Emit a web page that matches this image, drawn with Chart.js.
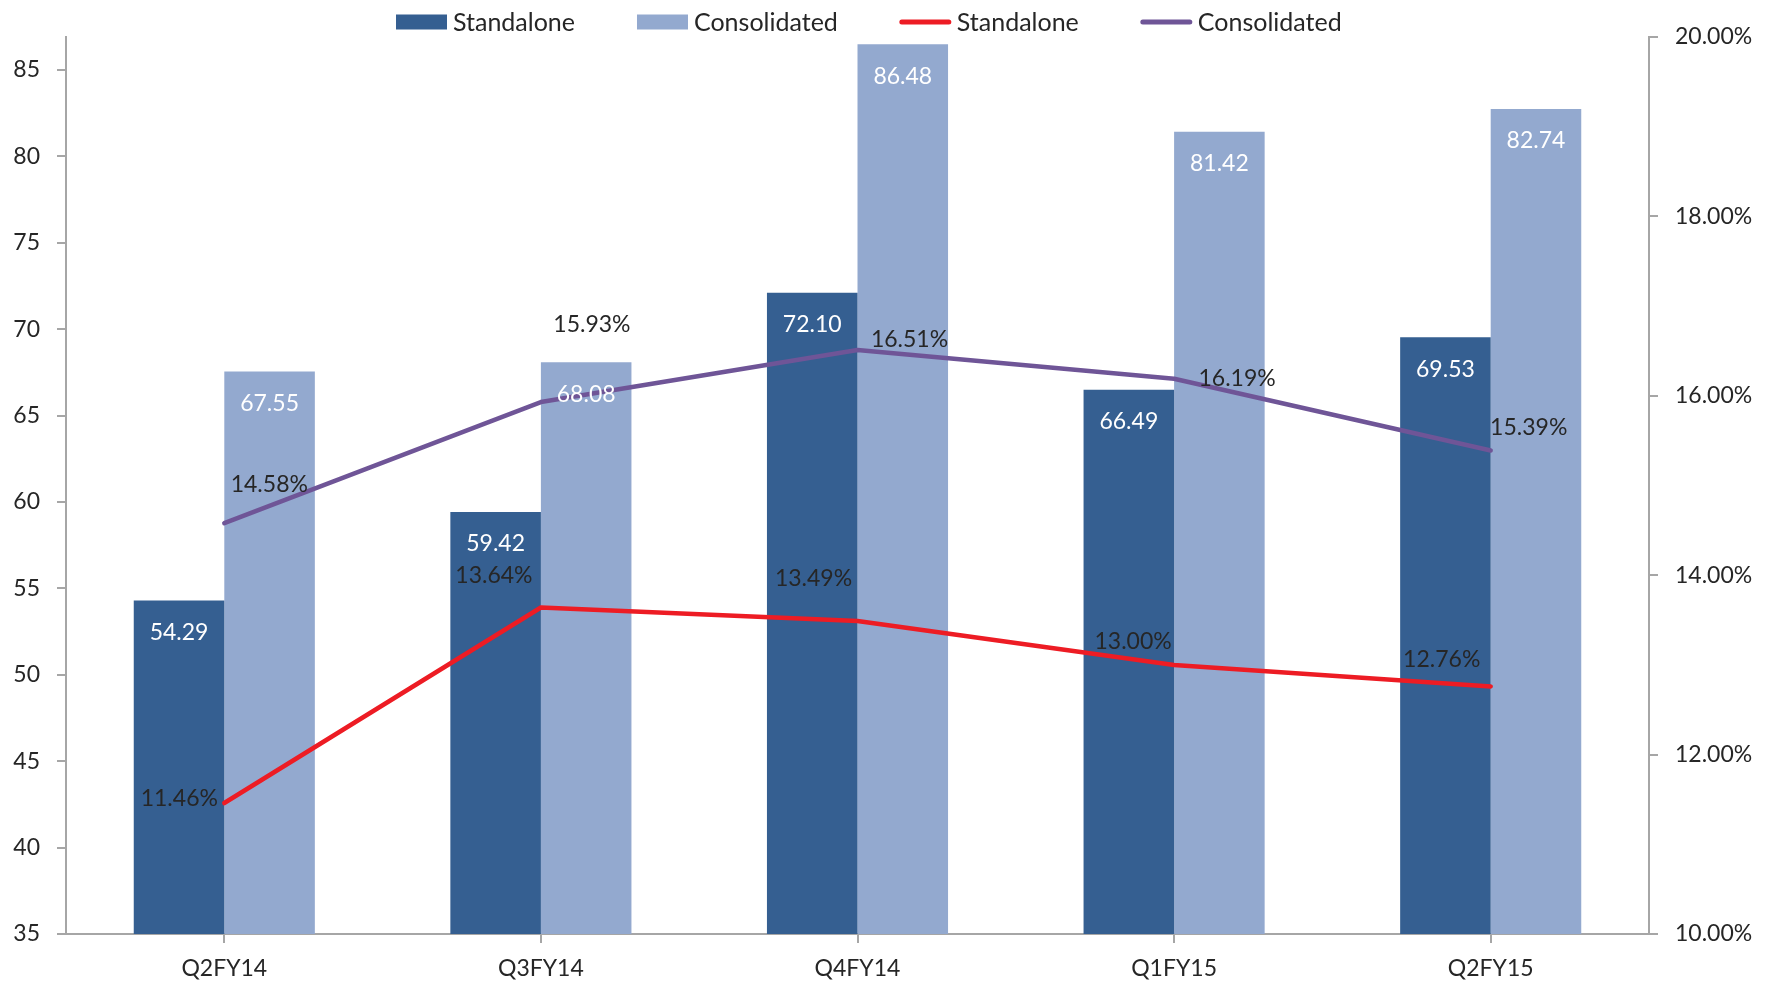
<!DOCTYPE html>
<html><head><meta charset="utf-8">
<script src="https://cdn.jsdelivr.net/npm/chart.js@4"></script>
<style>html,body{margin:0;padding:0;background:#fff}#wrap{width:1775px;height:982px}</style>
</head><body><div id="wrap"><canvas id="c" width="1775" height="982"></canvas></div>
<script>
const categories = ['Q2FY14', 'Q3FY14', 'Q4FY14', 'Q1FY15', 'Q2FY15'];
const standaloneRevenue = [54.29, 59.42, 72.10, 66.49, 69.53];
const consolidatedRevenue = [67.55, 68.08, 86.48, 81.42, 82.74];
const standaloneMargin = [11.46, 13.64, 13.49, 13.00, 12.76];
const consolidatedMargin = [14.58, 15.93, 16.51, 16.19, 15.39];
const leftAxis = { min: 35, max: 86.9, step: 5 };
const rightAxis = { min: 10, max: 20, step: 2 };

const FONT = "Lato, 'Open Sans', sans-serif";
const TEXT = '#262626';
const AXIS = '#A6A6A6';
const DARK = '#355F91';
const LIGHT = '#93A9CF';
const RED = '#ED1C24';
const PURPLE = '#6F5597';

// label placement (pixel offsets from each point, as in the reference)
const standaloneLabelOffsets = [[-45, -4], [-47, -32], [-44, -42], [-41, -23], [-49, -27]];
const consolidatedLabelOffsets = [[45, -39], [51, -78], [52, -10], [63, 0], [38, -23]];

const valueLabels = {
  id: 'valueLabels',
  afterDatasetsDraw(chart) {
    const ctx = chart.ctx;
    ctx.save();
    ctx.font = '23px ' + FONT;
    ctx.textAlign = 'center';
    ctx.textBaseline = 'middle';
    chart.data.datasets.forEach((ds, i) => {
      const meta = chart.getDatasetMeta(i);
      meta.data.forEach((el, j) => {
        const v = ds.data[j];
        if (ds.type === 'bar') {
          ctx.fillStyle = '#FFFFFF';
          ctx.fillText(v.toFixed(2), el.x, el.y + 32);
        } else {
          const o = ds.labelOffsets[j];
          ctx.fillStyle = TEXT;
          ctx.fillText(v.toFixed(2) + '%', el.x + o[0], el.y + o[1]);
        }
      });
    });
    ctx.restore();
  }
};

const customLegend = {
  id: 'customLegend',
  afterDraw(chart) {
    const ctx = chart.ctx;
    ctx.save();
    ctx.font = '25px ' + FONT;
    ctx.textBaseline = 'middle';
    ctx.textAlign = 'left';
    let x = 396;
    const cy = 22;
    chart.data.datasets.forEach((ds) => {
      if (ds.type === 'bar') {
        ctx.fillStyle = ds.backgroundColor;
        ctx.fillRect(x, cy - 7.5, 51, 15);
      } else {
        ctx.strokeStyle = ds.borderColor;
        ctx.lineWidth = 5;
        ctx.lineCap = 'round';
        ctx.beginPath();
        ctx.moveTo(x + 2, cy);
        ctx.lineTo(x + 49, cy);
        ctx.stroke();
      }
      x += 51 + 6;
      ctx.fillStyle = TEXT;
      ctx.fillText(ds.label, x, cy + 1);
      x += ctx.measureText(ds.label).width + 62;
    });
    ctx.restore();
  }
};

new Chart(document.getElementById('c'), {
  data: {
    labels: categories,
    datasets: [
      { type: 'bar', label: 'Standalone', data: standaloneRevenue, backgroundColor: DARK, yAxisID: 'y', order: 2,
        categoryPercentage: 0.572, barPercentage: 1.0 },
      { type: 'bar', label: 'Consolidated', data: consolidatedRevenue, backgroundColor: LIGHT, yAxisID: 'y', order: 2,
        categoryPercentage: 0.572, barPercentage: 1.0 },
      { type: 'line', label: 'Standalone', data: standaloneMargin, borderColor: RED, backgroundColor: RED, yAxisID: 'y1', order: 1,
        borderWidth: 4.5, pointRadius: 0, tension: 0, borderCapStyle: 'round', borderJoinStyle: 'round', labelOffsets: standaloneLabelOffsets },
      { type: 'line', label: 'Consolidated', data: consolidatedMargin, borderColor: PURPLE, backgroundColor: PURPLE, yAxisID: 'y1', order: 1,
        borderWidth: 4.5, pointRadius: 0, tension: 0, borderCapStyle: 'round', borderJoinStyle: 'round', labelOffsets: consolidatedLabelOffsets }
    ]
  },
  options: {
    responsive: false,
    animation: false,
    devicePixelRatio: 1,
    layout: { padding: { top: 37, left: 0, right: 0, bottom: 0 } },
    plugins: { legend: { display: false }, tooltip: { enabled: false } },
    scales: {
      x: {
        offset: true,
        grid: { display: true, drawOnChartArea: false, offset: false, tickLength: 9, color: AXIS, lineWidth: 2 },
        border: { display: true, color: AXIS, width: 2 },
        ticks: { font: { family: FONT, size: 23 }, color: TEXT, padding: 12, maxRotation: 0 },
        afterFit(s) { s.height = 48; }
      },
      y: {
        position: 'left',
        min: leftAxis.min, max: leftAxis.max,
        grid: { display: true, drawOnChartArea: false, tickLength: 9, color: AXIS, lineWidth: 2 },
        border: { display: true, color: AXIS, width: 2 },
        ticks: { stepSize: leftAxis.step, includeBounds: false, font: { family: FONT, size: 23 }, color: TEXT, padding: 17 },
        afterFit(s) { s.width = 66; }
      },
      y1: {
        position: 'right',
        min: rightAxis.min, max: rightAxis.max,
        grid: { display: true, drawOnChartArea: false, tickLength: 9, color: AXIS, lineWidth: 2 },
        border: { display: true, color: AXIS, width: 2 },
        ticks: { stepSize: rightAxis.step, font: { family: FONT, size: 23 }, color: TEXT, padding: 17,
          callback: (v) => Number(v).toFixed(2) + '%' },
        afterFit(s) { s.width = 126; }
      }
    }
  },
  plugins: [valueLabels, customLegend]
});
</script>
</body></html>
